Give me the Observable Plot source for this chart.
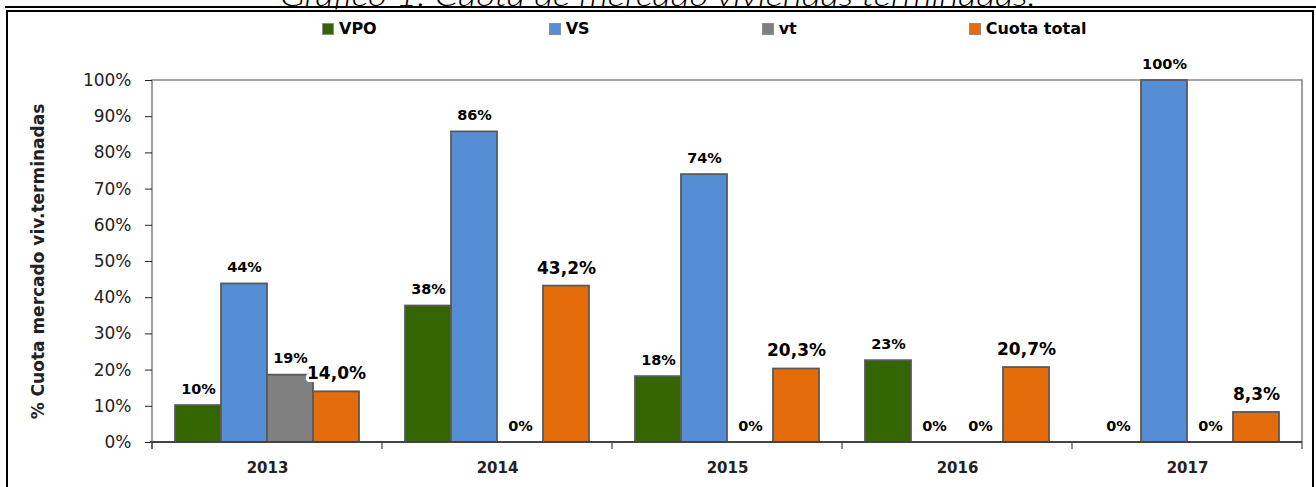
<!DOCTYPE html>
<html>
<head>
<meta charset="utf-8">
<script src="https://cdn.jsdelivr.net/npm/d3@7"></script>
<script src="https://cdn.jsdelivr.net/npm/@observablehq/plot@0.6"></script>
<style>
html, body { margin: 0; padding: 0; background: #fff; }
#wrap { position: relative; width: 1316px; height: 487px; overflow: hidden; background: #fff; font-family: "DejaVu Sans", sans-serif; color: #000; }
#titlesvg { position: absolute; left: 0; top: 0; overflow: visible; }
#rule { position: absolute; left: 5px; right: 0; top: 6px; height: 0; border-top: 2px solid #000; }
#box { position: absolute; left: 6px; top: 9.5px; width: 1308px; height: 520px; border: 2px solid #000; box-sizing: border-box; }
#legend { position: absolute; top: 20px; left: 322px; display: flex; gap: 172px; font-weight: bold; font-size: 16px; line-height: 18px; }
.item { display: flex; align-items: center; gap: 5px; }
.sw { width: 10px; height: 10px; border: 1px solid #8c8c8c; }
#chart { position: absolute; left: 0; top: 0; }
#chart svg [aria-label="fx-axis tick label"] { font-weight: bold; font-size: 15px; }
#chart svg [aria-label="y-axis label"] { font-weight: bold; font-size: 17px; }
</style>
</head>
<body>
<div id="wrap">
  <div id="rule"></div>
  <div id="box"></div>
  <svg id="titlesvg" width="1316" height="20">
    <text x="658" y="6" text-anchor="middle" textLength="756" lengthAdjust="spacingAndGlyphs"
      style="font-family: Lato, 'DejaVu Sans', sans-serif; font-style: italic; font-weight: 300; font-size: 27px; fill: #000;">Gráfico 1. Cuota de mercado viviendas terminadas.</text>
  </svg>
  <div id="legend"></div>
  <div id="chart"></div>
</div>
<script>
// ---- data ----
const years = ["2013", "2014", "2015", "2016", "2017"];
const seriesNames = ["VPO", "VS", "vt", "Cuota total"];
const vpo = [10.2, 37.7, 18.2, 22.6, 0];
const vs = [43.8, 85.8, 74.0, 0, 100];
const vt = [18.6, 0, 0, 0, 0];
const cuotaTotal = [14.0, 43.2, 20.3, 20.7, 8.3];
const seriesColors = ["#336600", "#558ED5", "#808080", "#E46C0A"];
const yTicks = [0, 10, 20, 30, 40, 50, 60, 70, 80, 90, 100];
const yTitle = "% Cuota mercado viv.terminadas";

(function () {
const seriesValues = [vpo, vs, vt, cuotaTotal];
const rows = [];
years.forEach((year, i) => {
  seriesNames.forEach((s, j) => rows.push({year, series: s, value: seriesValues[j][i]}));
});
const pctRows = rows.filter(d => d.series !== "Cuota total");
const totRows = rows.filter(d => d.series === "Cuota total");

// ---- legend ----
const legend = document.getElementById("legend");
seriesNames.forEach((s, j) => {
  const item = document.createElement("div");
  item.className = "item";
  const sw = document.createElement("span");
  sw.className = "sw";
  sw.style.background = seriesColors[j];
  const tx = document.createElement("span");
  tx.textContent = s;
  item.appendChild(sw); item.appendChild(tx);
  legend.appendChild(item);
});

// ---- chart ----
const plot = Plot.plot({
  width: 1316,
  height: 487,
  marginLeft: 150,
  marginRight: 13,
  marginTop: 80,
  marginBottom: 45,
  style: {fontFamily: "DejaVu Sans, sans-serif", fontSize: "17px", color: "#222", background: "transparent", overflow: "visible"},
  fx: {domain: years, padding: 0, label: null, axis: "bottom", tickSize: 0, tickPadding: 20},
  x: {domain: seriesNames, paddingInner: 0, paddingOuter: 0.5, axis: null},
  y: {domain: [0, 100], ticks: yTicks, tickFormat: d => d + "%", tickSize: 7, tickPadding: 14,
      label: yTitle, labelAnchor: "center", labelOffset: 121, labelArrow: "none"},
  color: {domain: seriesNames, range: seriesColors},
  marks: [
    Plot.barY(rows.filter(d => d.value > 0), {fx: "year", x: "series", y: "value", fill: "series", stroke: "#5a5a5a", strokeWidth: 1.8}),
    Plot.text(pctRows, {fx: "year", x: "series", y: "value", text: d => Math.round(d.value) + "%", dy: -16.5,
      fontWeight: "bold", fontSize: 14.5, fill: "#000"}),
    Plot.text(totRows, {fx: "year", x: "series", y: "value", text: d => d.value.toFixed(1).replace(".", ",") + "%", dy: -18,
      fontWeight: "bold", fontSize: 17, fill: "#000", stroke: "white", strokeWidth: 6, paintOrder: "stroke"})
  ]
});
document.getElementById("chart").appendChild(plot);

// ---- frame & category ticks from the library's scales ----
const fxS = plot.scale("fx"), yS = plot.scale("y");
const x0 = fxS.apply(years[0]);
const x1 = fxS.apply(years[years.length - 1]) + fxS.bandwidth;
const yTop = yS.apply(100), yBot = yS.apply(0);
const svg = d3.select(plot);
const under = svg.insert("g", ":first-child");
under.append("path")
  .attr("d", `M${x0},${yBot + 7}V${yTop}H${x1}V${yBot}`)
  .attr("fill", "none").attr("stroke", "#888").attr("stroke-width", 1.6);
const over = svg.append("g");
over.append("line").attr("x1", x0 - 2).attr("x2", x1).attr("y1", yBot).attr("y2", yBot)
  .attr("stroke", "#444").attr("stroke-width", 2);
const bounds = [x0].concat(years.map(y => fxS.apply(y) + fxS.bandwidth));
over.selectAll("line.tk").data(bounds).join("line").attr("class", "tk")
  .attr("x1", d => d).attr("x2", d => d).attr("y1", yBot).attr("y2", yBot + 7)
  .attr("stroke", "#444").attr("stroke-width", 1.2);
})();
</script>
</body>
</html>
